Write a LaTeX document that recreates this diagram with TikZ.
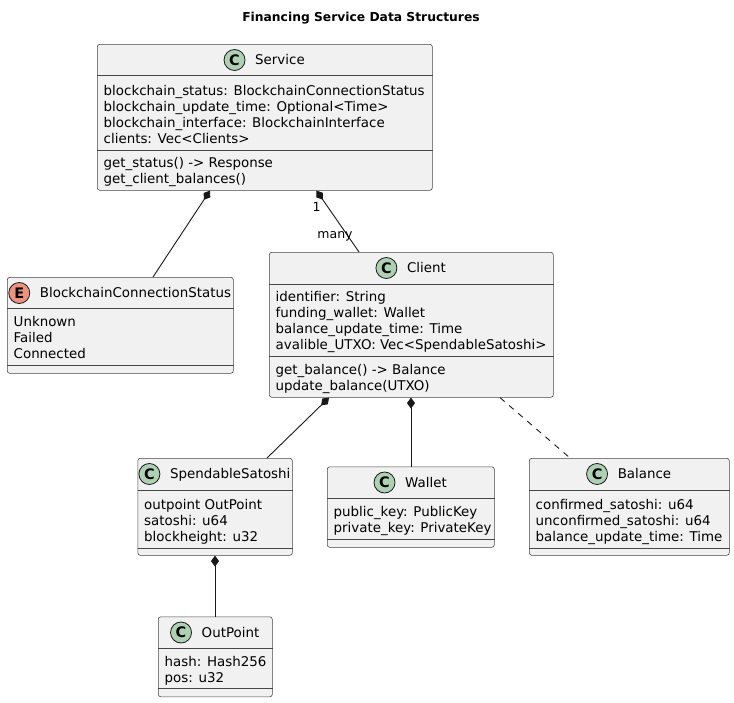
\documentclass[tikz,border=0pt]{standalone}
\usepackage{fontspec}
\setmainfont{DejaVu Sans}
\usetikzlibrary{arrows.meta,calc}

\definecolor{boxfill}{HTML}{F1F1F1}
\definecolor{boxline}{HTML}{181818}
\definecolor{classspot}{HTML}{ADD1B2}
\definecolor{enumspot}{HTML}{EB937F}

% horizontal divider inside a class box, #2 = offset from the top edge
\newcommand{\compartment}[2]{%
  \draw[sepline] ($(#1.north west)+(0,#2)$) -- ($(#1.north east)+(0,#2)$);}
% one member line, #3 = baseline offset from the top edge
\newcommand{\memberline}[4]{%
  \node[member] (#1) at ($(#2.north west)+(6.5,#3)$) {#4};}
% class header: spot circle with letter, then the class name, centred as a group
\newcommand{\classhead}[6]{%
  \node[headname] (#1-name) at (#2+15.5,#3+4.5) {#6};
  \node[spot, fill=#5] (#1-spot) at ($(#1-name.base west)+(-20.5,-4.5)$) {#4};}

\begin{document}
\begin{tikzpicture}[x=1pt,y=-1pt,
  classbox/.style={draw=boxline!80, line width=0.6pt, fill=boxfill,
    rounded corners=2.5pt, inner sep=0pt, anchor=north west},
  sepline/.style={draw=boxline!80, line width=0.5pt},
  member/.style={anchor=base west, inner sep=0pt,
    font=\fontsize{13.4}{16}\selectfont},
  headname/.style={anchor=base, inner sep=0pt,
    font=\fontsize{13.4}{16}\selectfont},
  spot/.style={circle, draw=boxline, line width=0.8pt, minimum size=21pt,
    inner sep=0pt, font=\bfseries\fontsize{14.5}{16}\selectfont},
  conn/.style={draw=boxline, line width=0.9pt},
  comp/.style={{Diamond[length=11pt,width=8pt]}-},
  lbl/.style={inner sep=0pt, font=\fontsize{12.5}{14}\selectfont},
]
\useasboundingbox (0,0) rectangle (734,702);

% title
\node[font=\bfseries\fontsize{12.3}{14}\selectfont] (title) at (361,18)
  {Financing Service Data Structures};

% Service
\node[classbox, minimum width=335pt, minimum height=146pt] (service) at (97,44) {};
\classhead{service}{264.5}{60}{C}{classspot}{Service}
\compartment{service}{31.5}
\memberline{service-a1}{service}{51}{blockchain\_status: BlockchainConnectionStatus}
\memberline{service-a2}{service}{67}{blockchain\_update\_time: Optional<Time>}
\memberline{service-a3}{service}{83}{blockchain\_interface: BlockchainInterface}
\memberline{service-a4}{service}{99}{clients: Vec<Clients>}
\compartment{service}{106}
\memberline{service-m1}{service}{123}{get\_status() -> Response}
\memberline{service-m2}{service}{139}{get\_client\_balances()}

% BlockchainConnectionStatus
\node[classbox, minimum width=226pt, minimum height=96pt] (enum) at (7,277) {};
\classhead{enum}{120}{293}{E}{enumspot}{BlockchainConnectionStatus}
\compartment{enum}{31}
\memberline{enum-v1}{enum}{49}{Unknown}
\memberline{enum-v2}{enum}{65}{Failed}
\memberline{enum-v3}{enum}{81}{Connected}
\compartment{enum}{88}

% Client
\node[classbox, minimum width=284pt, minimum height=145pt] (client) at (269,252) {};
\classhead{client}{411}{268}{C}{classspot}{Client}
\compartment{client}{32}
\memberline{client-a1}{client}{49}{identifier: String}
\memberline{client-a2}{client}{65}{funding\_wallet: Wallet}
\memberline{client-a3}{client}{81}{balance\_update\_time: Time}
\memberline{client-a4}{client}{97}{avalible\_UTXO: Vec<SpendableSatoshi>}
\compartment{client}{104}
\memberline{client-m1}{client}{122}{get\_balance() -> Balance}
\memberline{client-m2}{client}{138}{update\_balance(UTXO)}

% SpendableSatoshi
\node[classbox, minimum width=154.5pt, minimum height=97pt] (spend) at (137.5,458) {};
\classhead{spend}{214.75}{474}{C}{classspot}{SpendableSatoshi}
\compartment{spend}{32}
\memberline{spend-a1}{spend}{51}{outpoint OutPoint}
\memberline{spend-a2}{spend}{67}{satoshi: u64}
\memberline{spend-a3}{spend}{83}{blockheight: u32}
\compartment{spend}{90}

% Wallet
\node[classbox, minimum width=167pt, minimum height=80.5pt] (wallet) at (327,466.5) {};
\classhead{wallet}{410.5}{482.5}{C}{classspot}{Wallet}
\compartment{wallet}{32}
\memberline{wallet-a1}{wallet}{50}{public\_key: PublicKey}
\memberline{wallet-a2}{wallet}{66}{private\_key: PrivateKey}
\compartment{wallet}{72.5}

% Balance
\node[classbox, minimum width=200pt, minimum height=97pt] (balance) at (529,458) {};
\classhead{balance}{629}{474}{C}{classspot}{Balance}
\compartment{balance}{32}
\memberline{balance-a1}{balance}{51}{confirmed\_satoshi: u64}
\memberline{balance-a2}{balance}{67}{unconfirmed\_satoshi: u64}
\memberline{balance-a3}{balance}{83}{balance\_update\_time: Time}
\compartment{balance}{90}

% OutPoint
\node[classbox, minimum width=114pt, minimum height=80pt] (outpoint) at (158,616.5) {};
\classhead{outpoint}{215}{632.5}{C}{classspot}{OutPoint}
\compartment{outpoint}{31.5}
\memberline{outpoint-a1}{outpoint}{50}{hash: Hash256}
\memberline{outpoint-a2}{outpoint}{65.5}{pos: u32}
\compartment{outpoint}{71.5}

% relations
\draw[conn, comp] ($(service.south west)+(113,0)$) -- ($(enum.north west)+(146,0)$);
\draw[conn, comp] ($(service.south west)+(219.5,0)$) -- ($(client.north west)+(90,0)$);
\node[lbl] (mult-one) at (316.5,207) {1};
\node[lbl] (mult-many) at (335,236.5) {many};
\draw[conn, comp] ($(client.south west)+(60,0)$) -- ($(spend.north west)+(129.5,0)$);
\draw[conn, comp] ($(client.south west)+(142,0)$) -- ($(wallet.north west)+(84,0)$);
\draw[conn, dash pattern=on 6pt off 6pt] ($(client.south west)+(231,0)$) -- ($(balance.north west)+(41,0)$);
\draw[conn, comp] ($(spend.south west)+(77.5,0)$) -- ($(outpoint.north west)+(57,0)$);
\end{tikzpicture}
\end{document}
